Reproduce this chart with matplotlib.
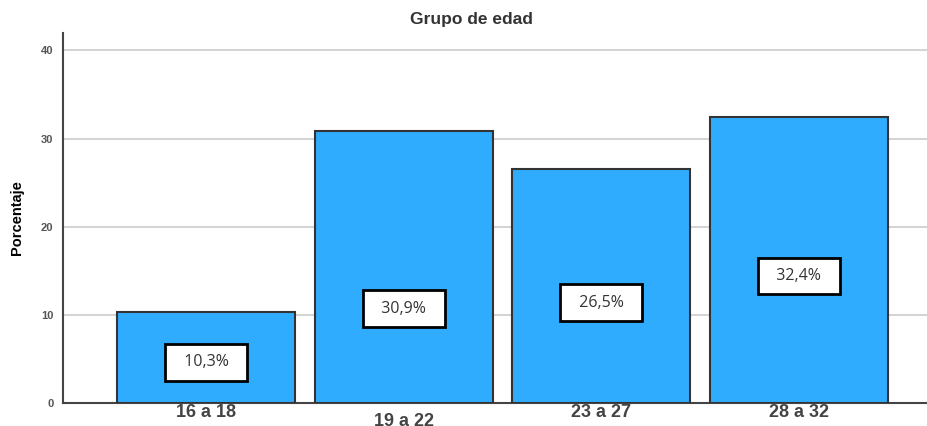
import matplotlib
matplotlib.use("Agg")
import matplotlib.pyplot as plt
import numpy as np

categories = ["16 a 18", "19 a 22", "23 a 27", "28 a 32"]
percentages = [10.3, 30.9, 26.5, 32.4]
labels = ["10,3%", "30,9%", "26,5%", "32,4%"]
# where the SPSS label boxes sit (y in data units)
label_y = [4.6, 10.7, 11.4, 14.4]

plt.rcParams["font.family"] = ["Liberation Sans", "DejaVu Sans"]

fig = plt.figure(figsize=(9.28, 4.26), dpi=100)
ax = fig.add_axes([0.068, 0.054, 0.932, 0.869])

x = np.arange(len(categories))
ax.bar(x, percentages, width=0.9, color="#30acff", edgecolor="#333333",
       linewidth=1.5, zorder=3)

for xi, lab, ly in zip(x, labels, label_y):
    ax.text(xi, ly, "  " + lab + "  ", ha="center", va="center",
            fontsize=11.5, family=["Open Sans", "DejaVu Sans"],
            color="#333333", zorder=4,
            bbox=dict(boxstyle="square,pad=0.65", fc="white", ec="black",
                      lw=2))

ax.set_xlim(-0.725, 3.655)
ax.set_ylim(0, 42)
ax.set_yticks([0, 10, 20, 30, 40])
ax.yaxis.grid(True, color="#cccccc", lw=1.2, zorder=0)
ax.set_axisbelow(True)

ax.set_xticks(x)
ax.set_xticklabels(categories, fontsize=13, fontweight="bold",
                   color="#444444")
for t in ax.get_yticklabels():
    t.set_fontsize(8)
    t.set_fontweight("bold")
    t.set_color("#555555")
ax.tick_params(axis="both", length=0)
ax.tick_params(axis="x", pad=1)
ax.tick_params(axis="y", pad=7)
# second label sits lower in the original export
ax.get_xticklabels()[1].set_y(-0.022)

ax.set_ylabel("Porcentaje", fontsize=10.5, fontweight="bold", labelpad=12)
ax.set_title("Grupo de edad", fontsize=12.5, fontweight="bold",
             color="#333333", pad=6, x=0.472)

for side in ["top", "right"]:
    ax.spines[side].set_visible(False)
ax.spines["left"].set_color("#444444")
ax.spines["left"].set_linewidth(1.5)
ax.spines["bottom"].set_color("#444444")
ax.spines["bottom"].set_linewidth(1.5)

fig.savefig("out.png", dpi=100)
